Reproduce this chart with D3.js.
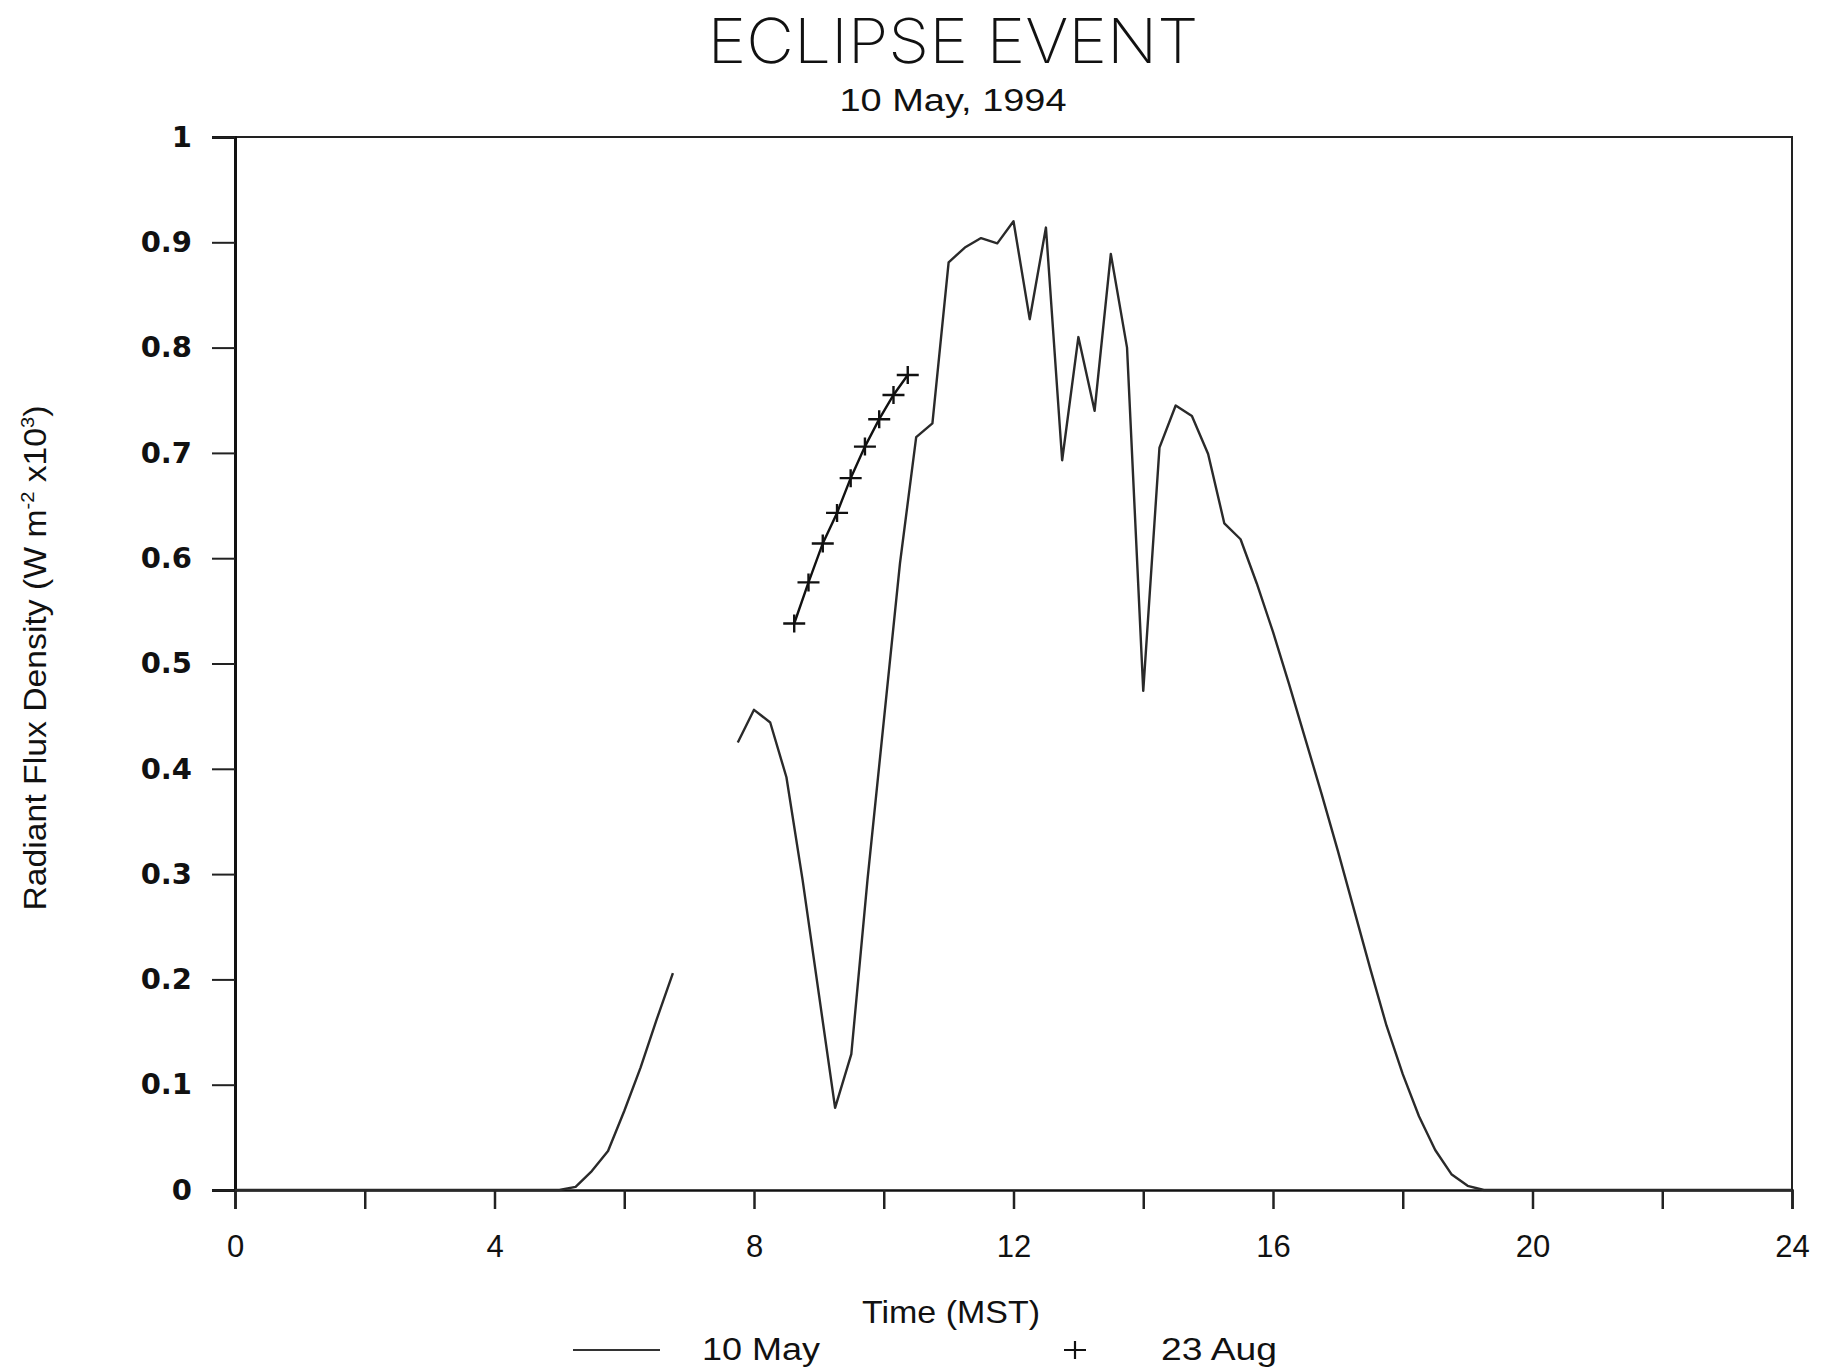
<!DOCTYPE html>
<html>
<head>
<meta charset="utf-8">
<script src="https://cdn.jsdelivr.net/npm/d3@7"></script>
<style>
  body { margin: 0; background: #fff; }
  svg { display: block; }
</style>
</head>
<body>
<div id="dataviz"></div>
<script>
// 10 May, 1994 - 15 min readings (null = no data)
const hours10May = [0, 5.0, 5.25, 5.5, 5.75, 6.0, 6.25, 6.5, 6.75, 7.0, 7.25, 7.5,
  7.75, 8.0, 8.25, 8.5, 8.75, 9.0, 9.25, 9.5, 9.75, 10.0, 10.25, 10.5, 10.75,
  11.0, 11.25, 11.5, 11.75, 12.0, 12.25, 12.5, 12.75, 13.0, 13.25, 13.5, 13.75,
  14.0, 14.25, 14.5, 14.75, 15.0, 15.25, 15.5, 15.75, 16.0, 16.25, 16.5, 16.75,
  17.0, 17.25, 17.5, 17.75, 18.0, 18.25, 18.5, 18.75, 19.0, 19.25, 24];
const flux10May = [0, 0, 0.003, 0.018, 0.037, 0.075, 0.116, 0.162, 0.206, null, null, null,
  0.425, 0.456, 0.444, 0.392, 0.294, 0.186, 0.078, 0.129, 0.295, 0.445, 0.595, 0.715, 0.728,
  0.881, 0.895, 0.904, 0.899, 0.920, 0.827, 0.914, 0.693, 0.810, 0.740, 0.889, 0.800,
  0.474, 0.705, 0.745, 0.735, 0.699, 0.633, 0.618, 0.576, 0.530, 0.480, 0.428, 0.376,
  0.322, 0.266, 0.210, 0.156, 0.110, 0.070, 0.038, 0.015, 0.004, 0, 0];

// 23 Aug (plus markers)
const hours23Aug = [8.62, 8.84, 9.06, 9.28, 9.49, 9.71, 9.93, 10.15, 10.37];
const flux23Aug = [0.538, 0.577, 0.614, 0.643, 0.676, 0.706, 0.732, 0.755, 0.774];

const xTicks = [0, 2, 4, 6, 8, 10, 12, 14, 16, 18, 20, 22, 24];
const yTicks = [0, 0.1, 0.2, 0.3, 0.4, 0.5, 0.6, 0.7, 0.8, 0.9, 1];
const seriesNames = ["10 May", "23 Aug"];

const W = 1821, H = 1371;
const margin = {top: 137, right: 29, bottom: 181, left: 235},
    width = W - margin.left - margin.right,
    height = H - margin.top - margin.bottom;

const svgRoot = d3.select("#dataviz")
  .append("svg")
  .attr("width", W)
  .attr("height", H);

svgRoot.append("rect").attr("width", W).attr("height", H).attr("fill", "#fff");

const svg = svgRoot.append("g")
  .attr("transform", `translate(${margin.left}, ${margin.top})`);

const xScale = d3.scaleLinear().domain([0, 24]).range([0, width]);
const yScale = d3.scaleLinear().domain([0, 1]).range([height, 0]);

// frame (top and right)
svg.append("path")
  .attr("d", `M0,0H${width}V${height}`)
  .attr("fill", "none")
  .attr("stroke", "#222")
  .attr("stroke-width", 2);

// y axis
const yAxis = svg.append("g")
  .call(d3.axisLeft(yScale).tickValues(yTicks).tickSize(23).tickPadding(20)
    .tickFormat(d => d === 0 ? "0" : d === 1 ? "1" : d3.format(".1f")(d)));
yAxis.select(".domain").attr("stroke", "#111").attr("stroke-width", 3);
yAxis.selectAll(".tick line").attr("stroke", "#222").attr("stroke-width", 2);
yAxis.selectAll(".tick text")
  .attr("fill", "#111")
  .style("font-family", "'DejaVu Sans', Verdana, sans-serif")
  .style("font-weight", "bold")
  .style("font-size", "29px");

// x axis
const xAxis = svg.append("g")
  .attr("transform", `translate(0, ${height})`)
  .call(d3.axisBottom(xScale).tickValues(xTicks).tickSize(19)
    .tickFormat(d => d % 4 === 0 ? d : ""));
xAxis.select(".domain").attr("stroke", "#111").attr("stroke-width", 2.5);
xAxis.selectAll(".tick line").attr("stroke", "#222").attr("stroke-width", 2.5);
xAxis.selectAll(".tick text")
  .attr("y", 67)
  .attr("dy", 0)
  .attr("fill", "#111")
  .style("font-family", "'Liberation Sans', Arial, sans-serif")
  .style("font-size", "31px");

// 10 May line
const may = hours10May.map((h, i) => ({h: h, v: flux10May[i]}));
const line = d3.line()
  .defined(d => d.v !== null)
  .x(d => xScale(d.h))
  .y(d => yScale(d.v));

svg.append("path")
  .datum(may)
  .attr("d", line)
  .attr("fill", "none")
  .attr("stroke", "#2a2a2a")
  .attr("stroke-width", 2.4)
  .attr("stroke-linejoin", "round");

// 23 Aug line + markers
const aug = hours23Aug.map((h, i) => ({h: h, v: flux23Aug[i]}));
svg.append("path")
  .datum(aug)
  .attr("d", line)
  .attr("fill", "none")
  .attr("stroke", "#111")
  .attr("stroke-width", 2.4);

const plus = "M-11,0H11M0,-9V9";
svg.selectAll(".plus")
  .data(aug)
  .join("path")
  .attr("class", "plus")
  .attr("transform", d => `translate(${xScale(d.h)}, ${yScale(d.v)})`)
  .attr("d", plus)
  .attr("stroke", "#111")
  .attr("stroke-width", 2.4);

// titles
svgRoot.append("text")
  .attr("x", 953).attr("y", 63)
  .attr("text-anchor", "middle")
  .attr("textLength", 491).attr("lengthAdjust", "spacingAndGlyphs")
  .style("font-family", "Inter, 'Liberation Sans', sans-serif")
  .style("font-weight", 200)
  .style("font-size", "62px")
  .attr("fill", "#111")
  .text("ECLIPSE EVENT");

svgRoot.append("text")
  .attr("x", 953).attr("y", 111)
  .attr("text-anchor", "middle")
  .attr("textLength", 227).attr("lengthAdjust", "spacingAndGlyphs")
  .style("font-family", "'Liberation Sans', Arial, sans-serif")
  .style("font-size", "31px")
  .attr("fill", "#111")
  .text("10 May, 1994");

// axis titles
svgRoot.append("text")
  .attr("x", 951).attr("y", 1323)
  .attr("text-anchor", "middle")
  .attr("textLength", 178).attr("lengthAdjust", "spacingAndGlyphs")
  .style("font-family", "'Liberation Sans', Arial, sans-serif")
  .style("font-size", "32px")
  .attr("fill", "#111")
  .text("Time (MST)");

const yLab = svgRoot.append("text")
  .attr("transform", "translate(46, 658) rotate(-90)")
  .attr("text-anchor", "middle")
  .attr("textLength", 505).attr("lengthAdjust", "spacingAndGlyphs")
  .style("font-family", "'Liberation Sans', Arial, sans-serif")
  .style("font-size", "32px")
  .attr("fill", "#111");
yLab.append("tspan").text("Radiant Flux Density (W m");
yLab.append("tspan").attr("dy", -12).style("font-size", "19px").text("-2");
yLab.append("tspan").attr("dy", 12).text(" x10");
yLab.append("tspan").attr("dy", -12).style("font-size", "19px").text("3");
yLab.append("tspan").attr("dy", 12).text(")");

// legend
const legend = svgRoot.append("g");
legend.append("line")
  .attr("x1", 573).attr("x2", 660).attr("y1", 1350).attr("y2", 1350)
  .attr("stroke", "#333").attr("stroke-width", 2);
legend.append("path")
  .attr("transform", "translate(1075, 1350)")
  .attr("d", plus)
  .attr("stroke", "#111").attr("stroke-width", 2.2);
legend.selectAll("text")
  .data(seriesNames)
  .join("text")
  .attr("x", (d, i) => i === 0 ? 702 : 1161)
  .attr("y", 1360)
  .attr("textLength", (d, i) => i === 0 ? 118 : 116)
  .attr("lengthAdjust", "spacingAndGlyphs")
  .style("font-family", "'Liberation Sans', Arial, sans-serif")
  .style("font-size", "31px")
  .attr("fill", "#111")
  .text(d => d);
</script>
</body>
</html>
